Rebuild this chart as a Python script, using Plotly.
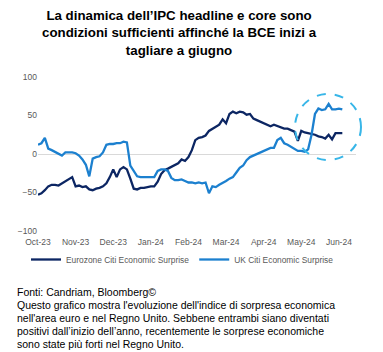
import pandas as pd
import plotly.graph_objects as go

# ---- data (sampled every 2 business days from 2 Oct 2023) ----
start_date = "2023-10-02"
tick_labels = ["Oct-23", "Nov-23", "Dec-23", "Jan-24", "Feb-24",
               "Mar-24", "Apr-24", "May-24", "Jun-24"]

eurozone = [-53, -51, -47, -42, -40, -40, -41, -38, -36, -33,
            -30, -42, -41, -43, -42, -46, -47, -45, -44, -42,
            -38, -30, -20, -30, -20, -17, -20, -32, -45, -46,
            -44, -44, -43, -42, -42, -36, -26, -21, -19, -17,
            -15, -12, -7, -9, -4, 5, 18, 21, 22, 24,
            30, 33, 36, 38, 45, 40, 52, 55, 53, 55,
            54, 51, 52, 46, 44, 42, 40, 39, 36, 38,
            36, 35, 33, 33, 31, 29, 17, 30, 28, 27,
            26, 25, 23, 22, 20, 25, 19, 27, 27, 27]

uk = [12, 14, 21, 7, 5, 3, 0, -2, 2, 2,
      2, 1, -2, -7, -14, -29, -6, -4, -3, 2,
      12, 13, 13, 14, 14, 16, 15, -15, -22, -29,
      -30, -30, -30, -30, -30, -22, -20, -20, -22, -31,
      -34, -34, -33, -35, -37, -37, -38, -37, -38, -37,
      -51, -42, -43, -40, -38, -35, -32, -30, -24, -18,
      -15, -8, -4, -2, 0, 3, 5, 7, 8, 8,
      18, 21, 14, 12, 9, 6, 4, 4, 3, 6,
      25, 52, 59, 57, 58, 65, 58, 58, 59, 58]

series_names = ["Eurozone Citi Economic Surprise", "UK Citi Economic Surprise"]
series_colors = ["#0c2663", "#1c80cf"]

y_ticks = [-100, -50, 0, 50, 100]

title_text = ("<b>La dinamica dell’IPC headline e core sono<br>"
              "condizioni sufficienti affinché la BCE inizi a<br>"
              "tagliare a giugno</b>")
note_lines = ["Fonti: Candriam, Bloomberg©",
              "Questo grafico mostra l'evoluzione dell'indice di sorpresa economica",
              "nell'area euro e nel Regno Unito. Sebbene entrambi siano diventati",
              "positivi dall’inizio dell’anno, recentemente le sorprese economiche",
              "sono state più forti nel Regno Unito."]

# ---- build ----
all_days = pd.bdate_range(start_date, periods=187)
dates = all_days[::2][:len(eurozone)]
tick_dates = all_days[::22][:len(tick_labels)]

FONT = "Liberation Sans, Arial, sans-serif"

fig = go.Figure()
for name, vals, col in zip(series_names, [eurozone, uk], series_colors):
    fig.add_trace(go.Scatter(x=dates, y=vals, mode="lines", name=name,
                             line=dict(color=col, width=2.3)))

W, H = 383, 352
L, R, T, B = 38, 27, 77, 121
pw, ph = W - L - R, H - T - B


def px_x(x):
    return (x - L) / pw


def px_y(y):
    return (H - B - y) / ph


fig.update_layout(
    width=W, height=H,
    margin=dict(l=L, r=R, t=T, b=B, pad=0),
    paper_bgcolor="white", plot_bgcolor="white",
    font=dict(family=FONT, color="#595959", size=8.5),
    showlegend=True,
    legend=dict(orientation="h", x=px_x(26), xanchor="left",
                y=px_y(259.5), yanchor="middle",
                font=dict(size=8.4, color="#595959"),
                bgcolor="rgba(0,0,0,0)", itemwidth=30),
    xaxis=dict(type="date", range=[all_days[0], all_days[186]],
               rangebreaks=[dict(bounds=["sat", "mon"])],
               tickvals=tick_dates, ticktext=tick_labels,
               showgrid=False, zeroline=False, showline=False,
               ticks="", ticklabelstandoff=4,
               tickfont=dict(size=8.5, color="#595959")),
    yaxis=dict(range=[-100, 100], tickvals=y_ticks,
               showgrid=False, zeroline=True, zerolinecolor="#d9d9d9",
               zerolinewidth=1, showline=False, ticks="",
               tickfont=dict(size=8.5, color="#595959")),
)

fig.add_annotation(text=title_text, xref="paper", yref="paper",
                   x=px_x(179), y=px_y(6), xanchor="center", yanchor="top",
                   showarrow=False, align="center",
                   font=dict(family=FONT, size=13.3, color="black"))
for i, line in enumerate(note_lines):
    fig.add_annotation(text=line, xref="paper", yref="paper",
                       x=px_x(15), y=px_y(292 + 13 * i),
                       xanchor="left", yanchor="middle",
                       showarrow=False, align="left",
                       font=dict(family=FONT, size=10.5, color="black"))

fig.add_shape(type="circle", xref="paper", yref="paper",
              x0=px_x(295), x1=px_x(361), y0=px_y(160), y1=px_y(94),
              line=dict(color="#38b6e8", width=2, dash="dash"))

fig.write_html("out.html")
